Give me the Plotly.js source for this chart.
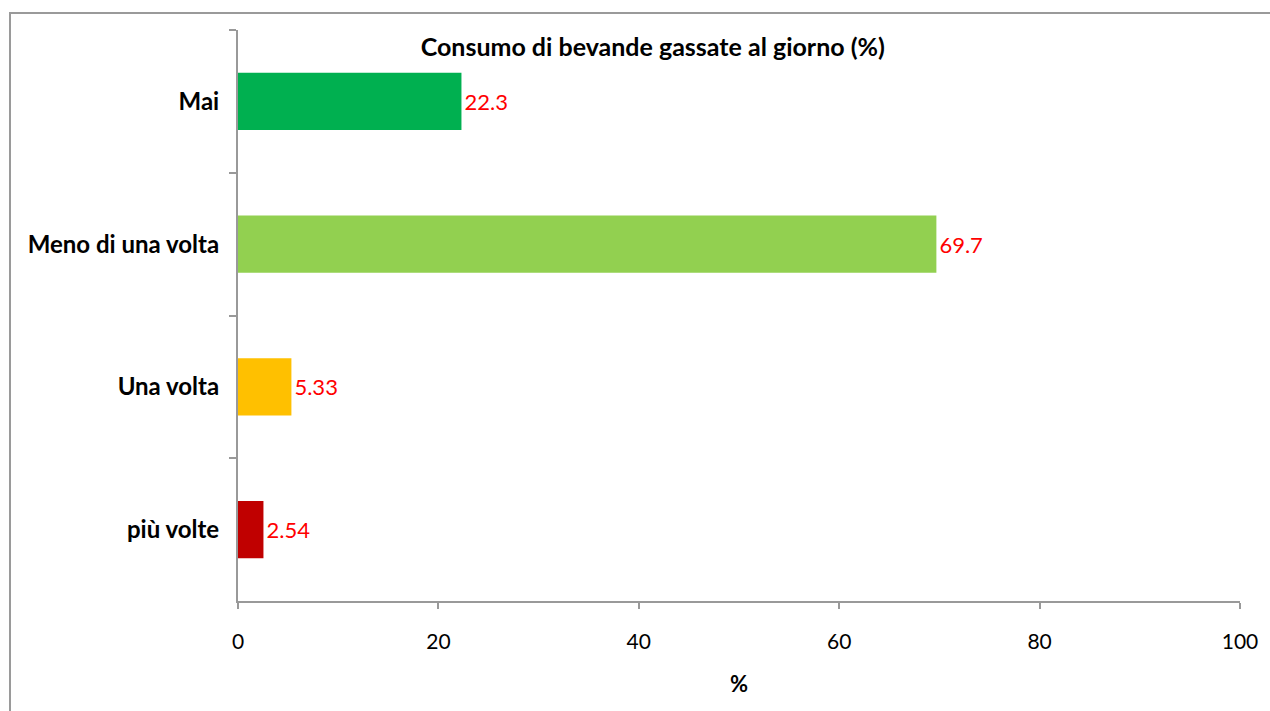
<!DOCTYPE html>
<html>
<head>
<meta charset="utf-8">
<script src="https://cdn.plot.ly/plotly-3.0.1.min.js"></script>
<style>
html,body{margin:0;padding:0;background:#fff;overflow:hidden;}
#frame{position:absolute;left:9px;top:12px;width:1400px;height:900px;border-left:2px solid #9a9a9a;border-top:2px solid #9a9a9a;}
#chart{position:absolute;left:0;top:0;width:1270px;height:711px;}
</style>
</head>
<body>
<div id="frame"></div>
<div id="chart"></div>
<script>
const categories = ["Mai", "Meno di una volta", "Una volta", "più volte"];
const values = [22.3, 69.7, 5.33, 2.54];
const labels = ["22.3", "69.7", "5.33", "2.54"];
const colors = ["#00B050", "#92D050", "#FFC000", "#C00000"];
const xTicks = [0, 20, 40, 60, 80, 100];

const trace = {
  type: "bar",
  orientation: "h",
  y: categories,
  x: values,
  text: labels,
  texttemplate: "%{text}",
  textposition: "outside",
  cliponaxis: false,
  textfont: {family: "Lato, sans-serif", size: 22, color: "#FF0000"},
  marker: {color: colors},
  hoverinfo: "none"
};

const layout = {
  width: 1270,
  height: 711,
  margin: {l: 238, r: 30, t: 30, b: 110},
  paper_bgcolor: "rgba(0,0,0,0)",
  plot_bgcolor: "rgba(0,0,0,0)",
  bargap: 0.6,
  showlegend: false,
  font: {family: "Lato, sans-serif", color: "#000"},
  title: {
    text: "Consumo di bevande gassate al giorno (%)",
    font: {family: "Lato, sans-serif", size: 25, weight: "bold", color: "#000"},
    x: 0.414, xref: "paper", xanchor: "center",
    y: 0.934, yref: "container", yanchor: "middle"
  },
  xaxis: {
    range: [0, 100],
    tickvals: xTicks,
    ticks: "outside",
    ticklen: 6,
    tickwidth: 2,
    tickcolor: "#999",
    showline: true,
    linecolor: "#999",
    linewidth: 2,
    showgrid: false,
    zeroline: false,
    ticklabelstandoff: 15,
    tickfont: {family: "Lato, sans-serif", size: 21, color: "#000"},
    title: {text: "%", font: {family: "Lato, sans-serif", size: 22, weight: "bold", color: "#000"}, standoff: 24}
  },
  yaxis: {
    type: "category",
    categoryorder: "array",
    categoryarray: categories,
    autorange: "reversed",
    tickson: "boundaries",
    ticks: "outside",
    ticklen: 7,
    tickwidth: 2,
    tickcolor: "#999",
    showline: true,
    linecolor: "#999",
    linewidth: 2,
    showgrid: false,
    zeroline: false,
    ticklabelstandoff: 12,
    tickfont: {family: "Lato, sans-serif", size: 24, weight: "bold", color: "#000"}
  }
};

Plotly.newPlot("chart", [trace], layout, {displayModeBar: false, staticPlot: true});
</script>
</body>
</html>
